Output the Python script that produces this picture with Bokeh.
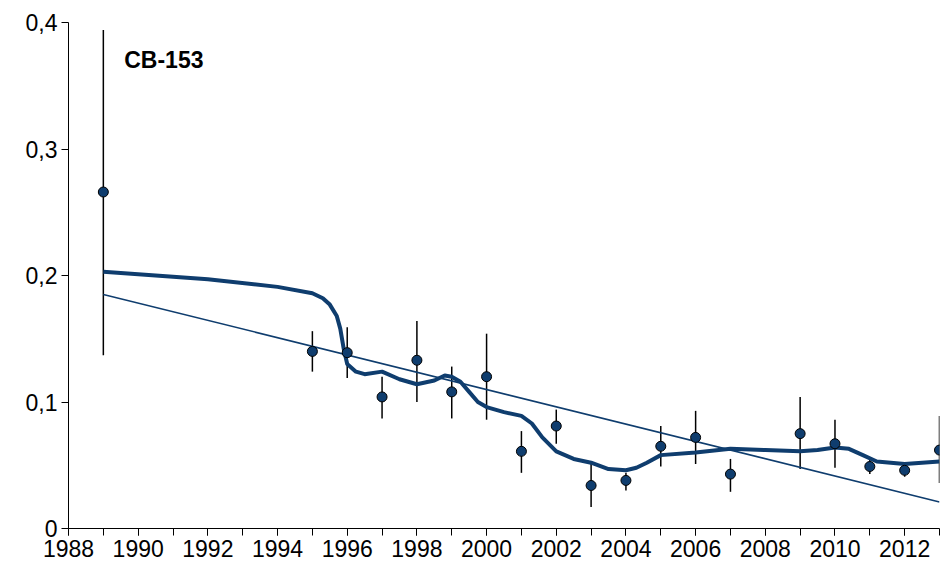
from bokeh.plotting import figure
from bokeh.models import FixedTicker, Label
from bokeh.embed import file_html
from bokeh.resources import INLINE

# data
years = [1989, 1995, 1996, 1997, 1998, 1999, 2000, 2001, 2002, 2003, 2004,
         2005, 2006, 2007, 2009, 2010, 2011, 2012, 2013]
conc = [0.266, 0.140, 0.139, 0.104, 0.133, 0.108, 0.120, 0.061, 0.081, 0.034, 0.038,
        0.065, 0.072, 0.043, 0.075, 0.067, 0.049, 0.046, 0.062]
err_hi = [0.394, 0.156, 0.159, 0.120, 0.164, 0.128, 0.154, 0.077, 0.094, 0.051, 0.044,
          0.081, 0.093, 0.055, 0.104, 0.086, 0.056, 0.051, 0.089]
err_lo = [0.137, 0.124, 0.119, 0.087, 0.100, 0.087, 0.086, 0.044, 0.067, 0.017, 0.030,
          0.049, 0.051, 0.029, 0.047, 0.048, 0.043, 0.041, 0.036]

trend_x = [1989, 2013]
trend_y = [0.185, 0.021]

smooth_x = [1989, 1992, 1994, 1995, 1995.3, 1995.5, 1995.7, 1995.8, 1995.9, 1996, 1996.25,
            1996.5, 1997, 1997.5, 1998, 1998.5, 1998.8, 1999, 1999.25, 1999.5, 1999.75, 2000,
            2000.5, 2001, 2001.3, 2001.6, 2002, 2002.5, 2003, 2003.5, 2004, 2004.3, 2004.6,
            2005, 2006, 2007, 2008, 2009, 2009.5, 2010, 2010.4, 2010.8, 2011.2, 2012, 2013]
smooth_y = [0.203, 0.197, 0.191, 0.186, 0.182, 0.177, 0.168, 0.158, 0.142, 0.130, 0.124,
            0.122, 0.124, 0.118, 0.114, 0.117, 0.121, 0.120, 0.116, 0.108, 0.100, 0.096,
            0.092, 0.089, 0.083, 0.072, 0.061, 0.055, 0.052, 0.047, 0.046, 0.048, 0.052,
            0.058, 0.060, 0.063, 0.062, 0.061, 0.062, 0.064, 0.063, 0.058, 0.053, 0.051, 0.053]

y_ticks = [0, 0.1, 0.2, 0.3, 0.4]
y_labels = {0: "0", 0.1: "0,1", 0.2: "0,2", 0.3: "0,3", 0.4: "0,4"}

p = figure(width=940, height=564, x_range=(1988, 2013), y_range=(0, 0.4),
           output_backend="svg", toolbar_location=None, min_border_left=68,
           min_border_right=1, min_border_top=22, min_border_bottom=36)
p.grid.visible = False
p.outline_line_color = None

p.segment(years, err_lo, years, err_hi, line_color="black", line_width=1.5)
p.line(trend_x, trend_y, line_color="#0f3d6e", line_width=1.5)
p.line(smooth_x, smooth_y, line_color="#0f3d6e", line_width=4, line_join="round")
p.scatter(years, conc, size=10, fill_color="#0f3d6e", line_color="black", line_width=1)

p.xaxis.ticker = FixedTicker(ticks=list(range(1988, 2013, 2)),
                             minor_ticks=list(range(1988, 2014)))
p.yaxis.ticker = FixedTicker(ticks=y_ticks, minor_ticks=[])
p.yaxis.major_label_overrides = y_labels
for ax in (p.xaxis[0], p.yaxis[0]):
    ax.major_label_text_font = "Liberation Sans"
    ax.major_label_text_font_size = "23px"
    ax.major_label_text_color = "black"
    ax.axis_line_color = "black"
    ax.major_tick_line_color = "black"
    ax.minor_tick_line_color = "black"
    ax.major_tick_in = 0
    ax.major_tick_out = 7
    ax.major_label_standoff = 4
p.xaxis.minor_tick_in = 0
p.xaxis.minor_tick_out = 7
p.yaxis.minor_tick_line_color = None

p.add_layout(Label(x=1989.6, y=0.37, text="CB-153", text_font="Liberation Sans",
                   text_font_style="bold", text_font_size="23px", text_color="black",
                   text_baseline="middle"))

open("out.html", "w").write(file_html(p, INLINE))
